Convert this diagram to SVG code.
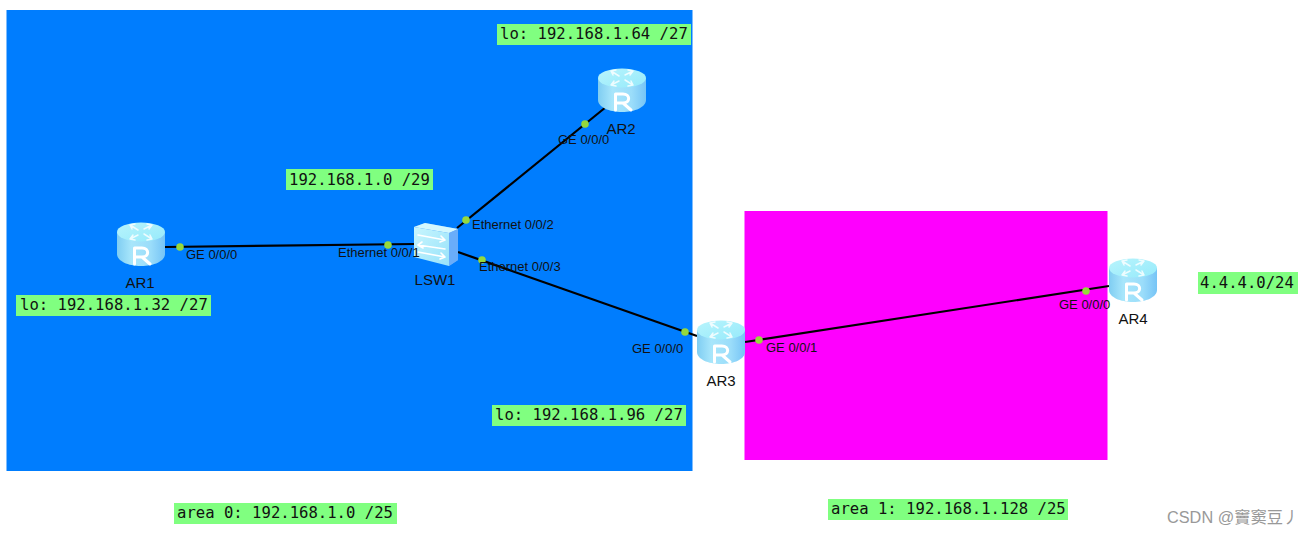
<svg xmlns="http://www.w3.org/2000/svg" width="1308" height="535" viewBox="0 0 1308 535">
<style>
.lb{fill:#80ff80}
.m{font-family:"DejaVu Sans Mono","Liberation Mono",monospace;font-size:15.6px;fill:#111}
.s{font-family:"Liberation Sans",Arial,sans-serif;font-size:13px;fill:#111}
.n{font-family:"Liberation Sans",Arial,sans-serif;font-size:15px;fill:#111;text-anchor:middle}
.c{stroke:#000;stroke-width:2.2;fill:none}
.d{fill:#96d93c}
.w{fill:none;stroke:#fff;stroke-linecap:round;stroke-linejoin:round}
</style>
<defs>
<linearGradient id="rs" x1="0" x2="1" y1="0" y2="0">
<stop offset="0" stop-color="#7fcdf2"/><stop offset=".3" stop-color="#a8e6fb"/><stop offset=".7" stop-color="#9bddfa"/><stop offset="1" stop-color="#76c4f6"/>
</linearGradient>
<linearGradient id="rt" x1="0" x2="1" y1="0" y2="1">
<stop offset="0" stop-color="#b8f4fc"/><stop offset="1" stop-color="#96eafb"/>
</linearGradient>
<linearGradient id="sf" x1="0" x2="1" y1="0" y2="1">
<stop offset="0" stop-color="#c8f6fe"/><stop offset="1" stop-color="#98e2fa"/>
</linearGradient>
<g id="router">
<path d="M-24-13V9C-24 16-13 21 0 21S24 16 24 9V-13Z" fill="url(#rs)"/>
<ellipse cx="0" cy="-13" rx="24" ry="9.5" fill="url(#rt)"/>
<g class="w" stroke-width="1.5" opacity=".8">
<path d="M-3-15L-11-20M-11-20L-6-21M-11-20L-9-16M3-11L11-6M11-6L6-5M11-6L9-10M3-16L11-20M11-20L6-21M11-20L8-16M-3-10L-11-6M-11-6L-6-5M-11-6L-8-10"/>
</g>
<path d="M-6.5 19V3H1C8.500 3 8.500 12 1 12H-6.500M1 12L9 19" class="w" stroke-width="3" stroke-linecap="butt" stroke-linejoin="miter"/>
</g>
<g id="switch">
<path d="M-22-18L-11-22L22-16V15L13 21V-12Z" fill="#6aaefa"/>
<path d="M-22-18L-11-22L22-16L13-12Z" fill="#d4f8fe"/>
<path d="M-22-18L13-12V21L-22 12Z" fill="url(#sf)"/>
<path d="M13-12L22-16V15L13 21Z" fill="#69adfa"/>
<g class="w" stroke-width="1.6">
<path d="M-18-10L9-5M5-9L9-5L4-3M9 4L-18 0M-14-3L-18 0L-13 3M-18 7L9 12M5 8L9 12L4 14"/>
</g>
</g>
</defs>
<rect id="area0" x="6.5" y="10" width="686" height="461" fill="#007dfe"/>
<rect id="area1" x="744.5" y="211" width="363" height="249" fill="#fe00fe"/>
<g id="connectors">
<path class="c" d="M165 247L415 244"/>
<path class="c" d="M457 228L606 107"/>
<path class="c" d="M458 252L697 336"/>
<path class="c" d="M745 342L1109 286"/>
<g id="ports">
<circle class="d" cx="180" cy="247" r="3.8"/>
<circle class="d" cx="388" cy="245" r="3.8"/>
<circle class="d" cx="466" cy="220" r="3.8"/>
<circle class="d" cx="585" cy="124" r="3.8"/>
<circle class="d" cx="482" cy="260" r="3.8"/>
<circle class="d" cx="685" cy="332" r="3.8"/>
<circle class="d" cx="759" cy="340" r="3.8"/>
<circle class="d" cx="1086" cy="291" r="3.8"/>
</g>
</g>
<g id="AR1"><use href="#router" x="141" y="245"/><text class="n" x="140" y="288">AR1</text><text class="s" x="186" y="259">GE 0/0/0</text></g>
<g id="AR2"><use href="#router" x="622" y="91"/><text class="n" x="621" y="134">AR2</text><text class="s" x="558" y="144">GE 0/0/0</text></g>
<g id="LSW1"><use href="#switch" x="436" y="245"/><text class="n" x="435" y="285">LSW1</text>
<text class="s" x="338" y="257">Ethernet 0/0/1</text><text class="s" x="472" y="229">Ethernet 0/0/2</text><text class="s" x="479" y="271">Ethernet 0/0/3</text></g>
<g id="AR3"><use href="#router" x="721" y="343"/><text class="n" x="721" y="386">AR3</text><text class="s" x="632" y="353">GE 0/0/0</text><text class="s" x="766" y="352">GE 0/0/1</text></g>
<g id="AR4"><use href="#router" x="1133" y="281"/><text class="n" x="1133" y="324">AR4</text><text class="s" x="1059" y="309">GE 0/0/0</text></g>
<g id="labels">
<rect class="lb" x="497" y="24" width="194" height="21"/><text class="m" x="500" y="39">lo: 192.168.1.64 /27</text>
<rect class="lb" x="286" y="169" width="147" height="21"/><text class="m" x="289" y="185">192.168.1.0 /29</text>
<rect class="lb" x="16" y="295" width="195" height="21"/><text class="m" x="20" y="310">lo: 192.168.1.32 /27</text>
<rect class="lb" x="492" y="405" width="194" height="21"/><text class="m" x="495" y="420">lo: 192.168.1.96 /27</text>
<rect class="lb" x="1198" y="272" width="100" height="22"/><text class="m" x="1200" y="288">4.4.4.0/24</text>
<rect class="lb" x="174" y="503" width="223" height="21"/><text class="m" x="177" y="518">area 0: 192.168.1.0 /25</text>
<rect class="lb" x="828" y="499" width="240" height="21"/><text class="m" x="831" y="514">area 1: 192.168.1.128 /25</text>
</g>
<text id="watermark" x="1167" y="523" font-family="'Liberation Sans','Noto Sans CJK SC',sans-serif" font-size="16.3" fill="#999">CSDN @竇窦豆丿</text>
</svg>
